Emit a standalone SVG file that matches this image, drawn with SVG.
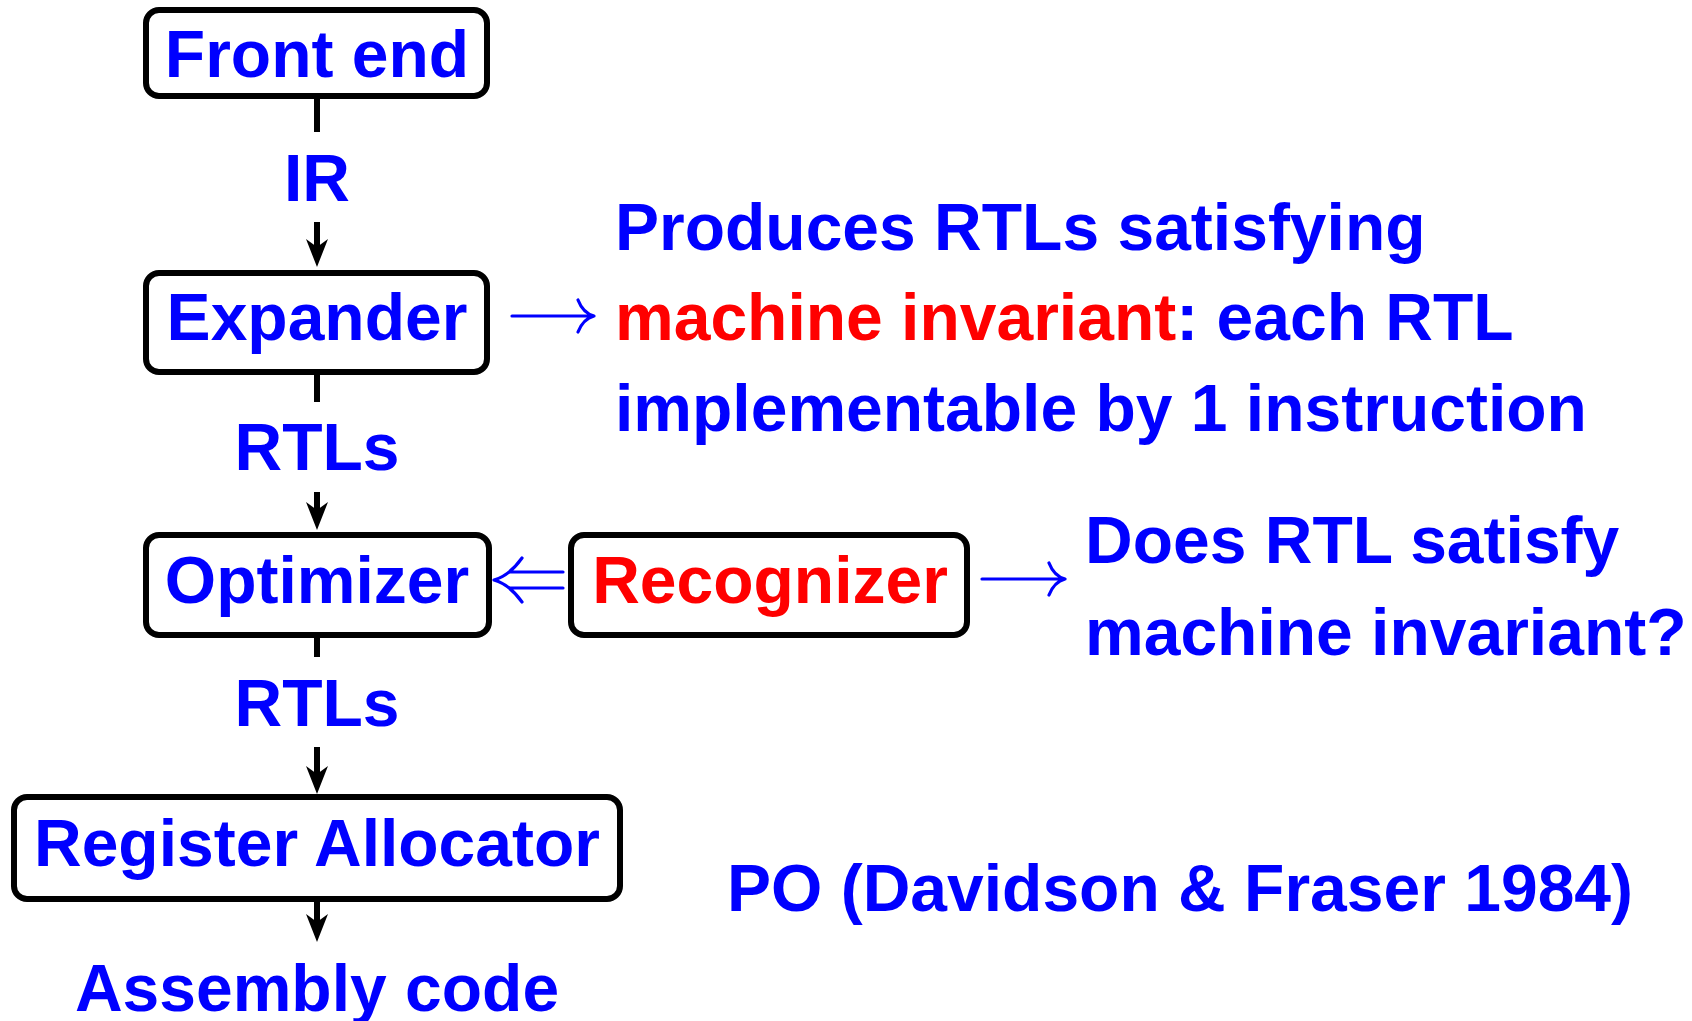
<svg xmlns="http://www.w3.org/2000/svg" width="1692" height="1021" viewBox="0 0 1692 1021">
  <style>
    .box { fill: #ffffff; stroke: #000000; stroke-width: 6; }
    .t { font-family: "Liberation Sans", Arial, sans-serif; font-weight: bold; font-size: 66px; }
    .blue { fill: #0000ff; }
    .red { fill: #ff0000; }
    .mid { text-anchor: middle; }
    .flow { fill: none; stroke: #000000; stroke-width: 6; }
    .thin { fill: none; stroke: #0000ff; stroke-width: 3.2; stroke-linecap: round; stroke-linejoin: round; }
  </style>
  <defs>
    <!-- barbed arrowhead; origin sits at the notch, tip 20 units ahead -->
    <marker id="ah" markerUnits="userSpaceOnUse" markerWidth="40" markerHeight="30" refX="0" refY="0" orient="auto" overflow="visible">
      <path d="M20,0 L-8,-11 L0,0 L-8,11 Z" fill="#000000"/>
    </marker>
  </defs>

  <rect width="1692" height="1021" fill="#ffffff"/>

  <!-- pipeline connectors -->
  <g id="connectors">
    <path class="flow" d="M317,96 V132 M317,222 V247" marker-end="url(#ah)"/>
    <path class="flow" d="M317,372 V402 M317,492 V510" marker-end="url(#ah)"/>
    <path class="flow" d="M317,635 V657 M317,747 V774" marker-end="url(#ah)"/>
    <path class="flow" d="M317,899 V922" marker-end="url(#ah)"/>
    <text class="t blue mid" x="317" y="201">IR</text>
    <text class="t blue mid" x="317" y="470">RTLs</text>
    <text class="t blue mid" x="317" y="726">RTLs</text>
    <!-- Expander -> note -->
    <path class="thin" d="M512,316 H594 M578,300 Q583,313 594,316 Q583,319 578,332"/>
    <!-- Recognizer => Optimizer -->
    <path class="thin" d="M510,572 H563 M510,588 H563 M522,558 Q509,576 494,580 Q509,584 522,602"/>
    <!-- Recognizer -> question -->
    <path class="thin" d="M982,579 H1065 M1049,563 Q1054,576 1065,579 Q1054,582 1049,595"/>
  </g>

  <g id="front-end">
    <rect class="box" x="146" y="10" width="341" height="86" rx="13"/>
    <text class="t blue mid" x="317" y="77">Front end</text>
  </g>

  <g id="expander">
    <rect class="box" x="146" y="273" width="341" height="99" rx="13"/>
    <text class="t blue mid" x="317" y="340">Expander</text>
  </g>

  <g id="optimizer">
    <rect class="box" x="146" y="535" width="343" height="100" rx="13"/>
    <text class="t blue mid" x="317" y="603">Optimizer</text>
  </g>

  <g id="recognizer">
    <rect class="box" x="571" y="535" width="396" height="100" rx="13"/>
    <text class="t red mid" x="770" y="603">Recognizer</text>
  </g>

  <g id="register-allocator">
    <rect class="box" x="14" y="797" width="606" height="102" rx="13"/>
    <text class="t blue mid" x="317" y="866">Register Allocator</text>
  </g>

  <g id="assembly-code">
    <text class="t blue mid" x="317" y="1011">Assembly code</text>
  </g>

  <g id="expander-note">
    <text class="t blue" x="615" y="250">Produces RTLs satisfying</text>
    <text class="t" x="615" y="340"><tspan class="red">machine invariant</tspan><tspan class="blue">: each RTL</tspan></text>
    <text class="t blue" x="615" y="431">implementable by 1 instruction</text>
  </g>

  <g id="recognizer-note">
    <text class="t blue" x="1085" y="563">Does RTL satisfy</text>
    <text class="t blue" x="1085" y="655">machine invariant?</text>
  </g>

  <g id="citation">
    <text class="t blue" x="727" y="911">PO (Davidson &amp; Fraser 1984)</text>
  </g>
</svg>
